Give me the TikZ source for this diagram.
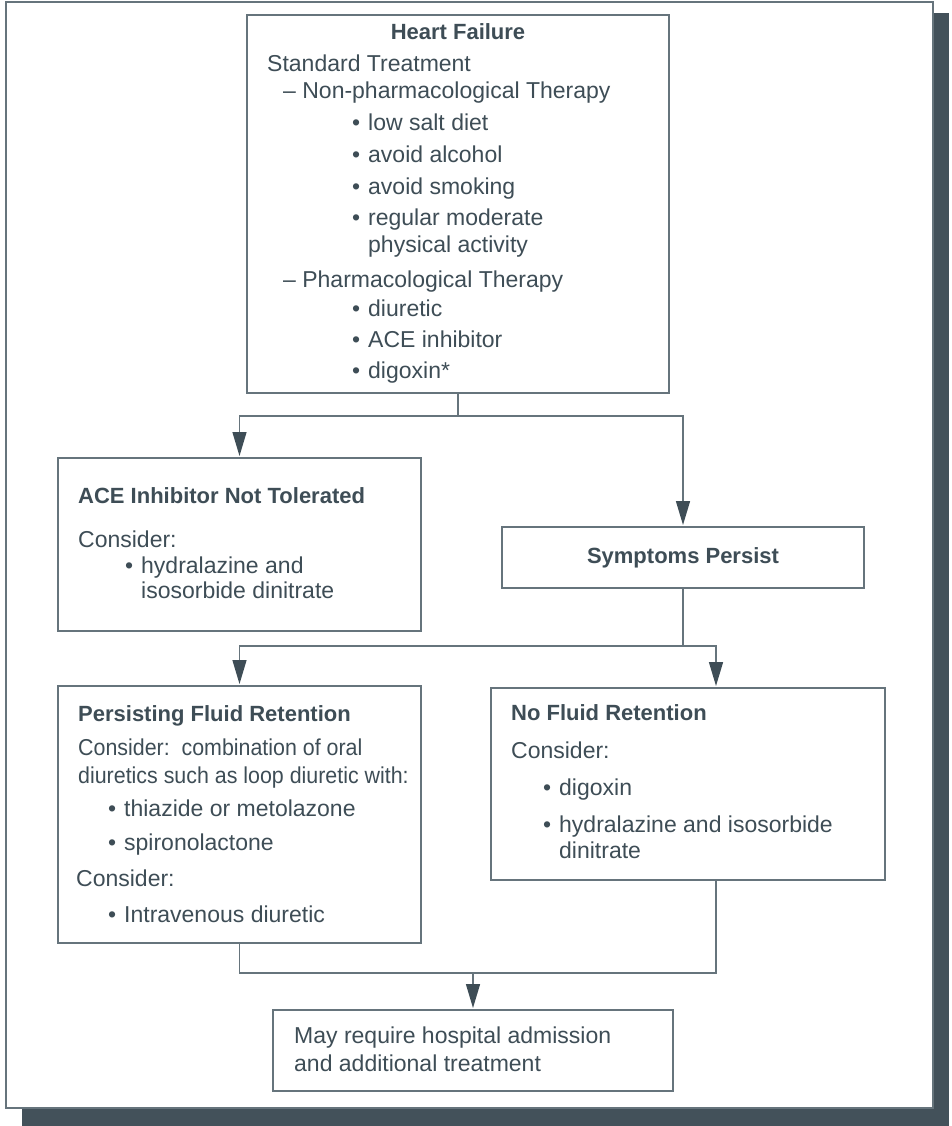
\documentclass[tikz,border=0pt]{standalone}
\usepackage{fontspec}
\setmainfont{Liberation Sans}
\usepackage{graphicx}
\usetikzlibrary{arrows.meta,calc}
\definecolor{ink}{HTML}{3E4D56}
\definecolor{rule}{HTML}{66747C}
\definecolor{dropgrey}{HTML}{43515A}
\tikzset{
  frame/.style={draw=rule, line width=1.3pt, fill=white},
  panel/.style={draw=rule, line width=1.4pt, inner sep=0pt, outer sep=0pt, anchor=north west},
  conn/.style={draw=rule, line width=1.4pt},
  arr/.style={conn, -{Triangle[length=24pt, width=14pt, color=ink]}, shorten >=2pt},
  lbl/.style={text=ink, anchor=base west, inner sep=0pt, font=\fontsize{23}{27}\selectfont},
  head/.style={lbl, font=\fontsize{22}{26}\selectfont\bfseries},
}
\newcommand{\blt}{\makebox[16pt][l]{•}}
\newcommand{\squeeze}[1]{\scalebox{0.93}[1]{#1}}

\begin{document}
\begin{tikzpicture}[x=1pt, y=-1pt]
  \useasboundingbox (0,0) rectangle (951,1126);

  % sheet with drop shadow
  \fill[dropgrey] (22,13) rectangle (949,1126);
  \draw[frame] (6,2) rectangle (933,1108);

  % boxes
  \node[panel, minimum width=422pt, minimum height=378pt] (hf) at (247,15) {};
  \node[panel, minimum width=363pt, minimum height=173pt] (ace) at (58,458) {};
  \node[panel, minimum width=362pt, minimum height=61pt] (sym) at (502,527) {};
  \node[panel, minimum width=363pt, minimum height=257pt] (pers) at (58,686) {};
  \node[panel, minimum width=394pt, minimum height=192pt] (nofl) at (491,688) {};
  \node[panel, minimum width=400pt, minimum height=81pt] (adm) at (273,1010) {};

  % heart failure
  \node[head, anchor=base] (hf-t) at (458,40) {Heart Failure};
  \node[lbl] (hf-st) at (267,72) {Standard Treatment};
  \node[lbl] (hf-np) at (283,99) {– Non-pharmacological Therapy};
  \foreach \t [count=\i] in {low salt diet, avoid alcohol, avoid smoking, regular moderate}
    \node[lbl] (hf-n\i) at (352, {99+31.7*\i}) {\blt\t};
  \node[lbl] (hf-n5) at (368,252) {physical activity};
  \node[lbl] (hf-ph) at (283,287) {– Pharmacological Therapy};
  \foreach \t [count=\i] in {diuretic, ACE inhibitor, digoxin*}
    \node[lbl] (hf-p\i) at (352, {285+31.3*\i}) {\blt\t};

  % ace inhibitor
  \node[head] (ace-t) at (78,503) {ACE Inhibitor Not Tolerated};
  \node[lbl] (ace-c) at (78,547) {Consider:};
  \node[lbl] (ace-b1) at (125,573) {\blt hydralazine and};
  \node[lbl] (ace-b2) at (141,598) {isosorbide dinitrate};

  \node[head, anchor=base] (sym-t) at (683,563) {Symptoms Persist};

  % fluid retention
  \node[head] (pers-t) at (78,721) {Persisting Fluid Retention};
  \node[lbl] (pers-c1) at (78,755) {\squeeze{Consider:\ \ combination of oral}};
  \node[lbl] (pers-c2) at (78,783) {\squeeze{diuretics such as loop diuretic with:}};
  \node[lbl] (pers-b1) at (108,816) {\blt thiazide or metolazone};
  \node[lbl] (pers-b2) at (108,850) {\blt spironolactone};
  \node[lbl] (pers-c3) at (76,886) {Consider:};
  \node[lbl] (pers-b3) at (108,922) {\blt Intravenous diuretic};

  \node[head] (nofl-t) at (511,720) {No Fluid Retention};
  \node[lbl] (nofl-c) at (511,758) {Consider:};
  \node[lbl] (nofl-b1) at (543,795) {\blt digoxin};
  \node[lbl] (nofl-b2) at (543,832) {\blt hydralazine and isosorbide};
  \node[lbl] (nofl-b3) at (559,858) {dinitrate};

  \node[lbl] (adm-l1) at (294,1043) {May require hospital admission};
  \node[lbl] (adm-l2) at (294,1071) {and additional treatment};

  % connectors
  \coordinate (nf) at (716,0);
  \draw[conn] (hf.south) -- ++(0,23) coordinate (j1);
  \draw[arr] (j1) -| (ace.north);
  \draw[arr] (j1) -| (sym.north);
  \draw[conn] (sym.south) -- ++(0,58) coordinate (j2);
  \draw[arr] (j2) -| (pers.north);
  \draw[arr] (j2) -| (nofl.north -| nf);
  \draw[conn] (pers.south) -- ++(0,30) coordinate (j3) -| (nofl.south -| nf);
  \draw[arr] (j3 -| adm.north) -- (adm.north);
\end{tikzpicture}
\end{document}
